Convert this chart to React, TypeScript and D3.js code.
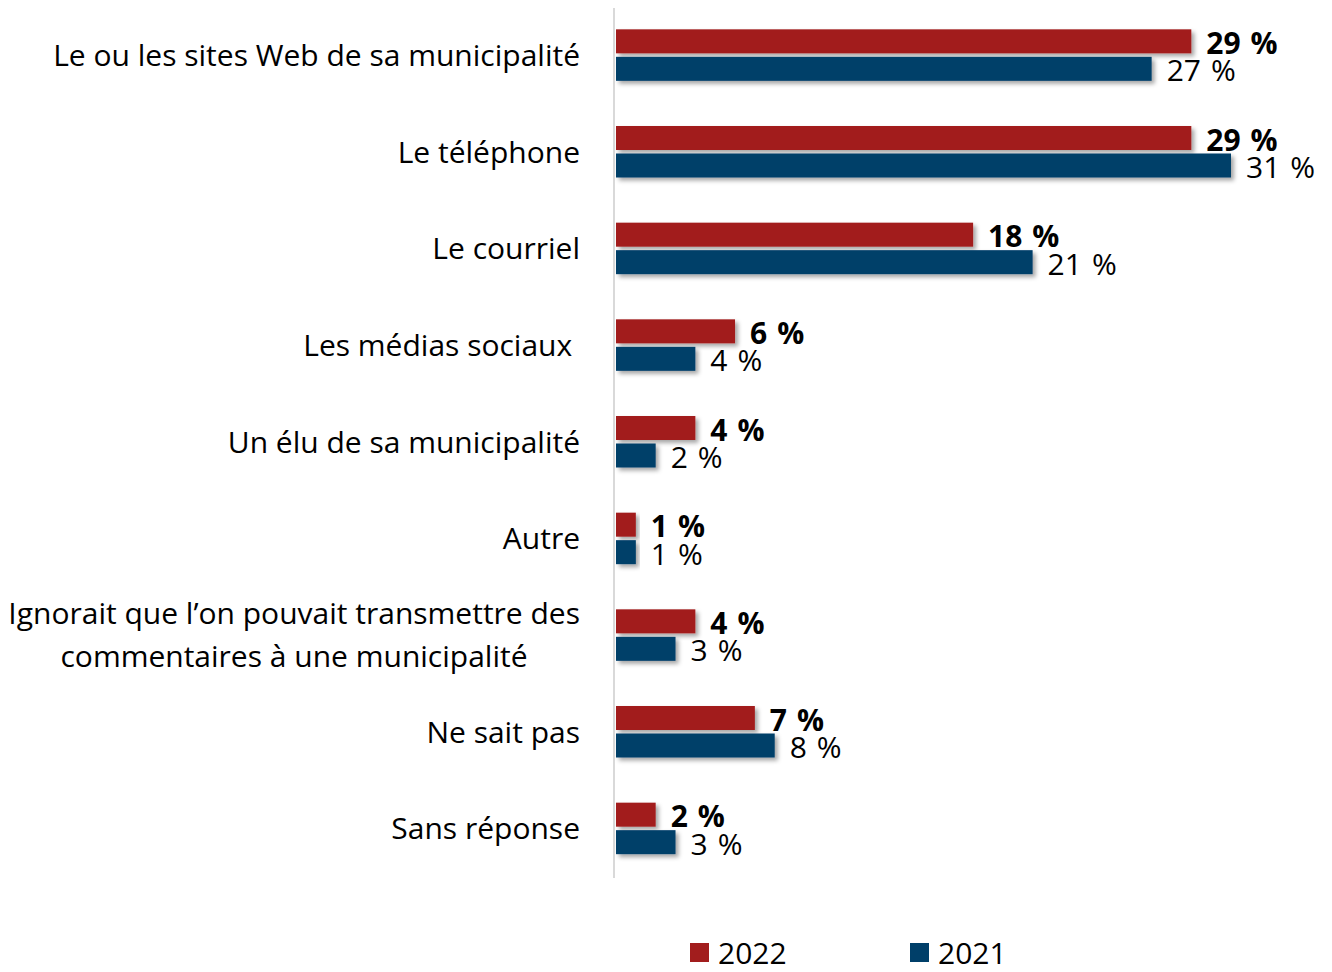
import React from 'react';
import * as d3 from 'd3';

const categories = [
  ['Le ou les sites Web de sa municipalité'],
  ['Le téléphone'],
  ['Le courriel'],
  ['Les médias sociaux '],
  ['Un élu de sa municipalité'],
  ['Autre'],
  ['Ignorait que l\u2019on pouvait transmettre des', 'commentaires à une municipalité'],
  ['Ne sait pas'],
  ['Sans réponse'],
];
const values2022 = [29, 29, 18, 6, 4, 1, 4, 7, 2];
const values2021 = [27, 31, 21, 4, 2, 1, 3, 8, 3];
const seriesNames = ['2022', '2021'];
const colors = ['#A21D1D', '#003F69'];

const W = 1332;
const H = 972;
const FONT = "'Open Sans', 'Noto Sans', sans-serif";

export default function App() {
  const x = d3.scaleLinear().domain([0, 31]).range([615, 1230]);
  const y = d3.scaleBand().domain(categories.map((c, i) => String(i))).range([8, 878]);
  const barH = 24;

  return (
    <svg width={W} height={H} style={{ position: 'absolute', left: 0, top: 0, background: '#fff' }}>
      <defs>
        <filter id="shadow" x="-10%" y="-30%" width="130%" height="180%">
          <feDropShadow dx="3" dy="3" stdDeviation="2" floodColor="#000" floodOpacity="0.35" />
        </filter>
      </defs>

      {/* axis line */}
      <line x1={614} x2={614} y1={8} y2={878} stroke="#d9d9d9" strokeWidth={2} />

      {categories.map((lines, i) => {
        const cy = y(String(i))! + y.bandwidth() / 2;
        const lineH = 43;
        const y0 = cy - ((lines.length - 1) * lineH) / 2;
        return (
          <g key={i}>
            {lines.map((t, j) => (
              <text key={j} x={580} y={y0 + j * lineH - 1} dy="0.35em" textAnchor={j > 0 ? 'middle' : 'end'}
                dx={j > 0 ? -286 : 0}
                fontFamily={FONT} fontSize={30} fill="#000" style={{ whiteSpace: 'pre' }}>{t}</text>
            ))}
            {[values2022[i], values2021[i]].map((v, k) => {
              const by = k === 0 ? cy - 27 : cy + 0.5;
              return (
                <g key={k}>
                  <rect x={x(0) + 1} y={by} width={x(v) - x(0)} height={barH} fill={colors[k]} filter="url(#shadow)" />
                  <text x={x(v) + 16} y={by + barH / 2 + 2} dy="0.35em" fontFamily={FONT} fontSize={30}
                    fontWeight={k === 0 ? 700 : 400} fill="#000" style={{ whiteSpace: 'pre' }}>{v}{'\u2009\u2009%'}</text>
                </g>
              );
            })}
          </g>
        );
      })}

      {/* legend */}
      {seriesNames.map((s, k) => (
        <g key={s} transform={`translate(${690 + k * 220},0)`}>
          <rect x={0} y={943} width={19} height={19} fill={colors[k]} />
          <text x={28} y={953} dy="0.35em" fontFamily={FONT} fontSize={30} fill="#000">{s}</text>
        </g>
      ))}
    </svg>
  );
}
